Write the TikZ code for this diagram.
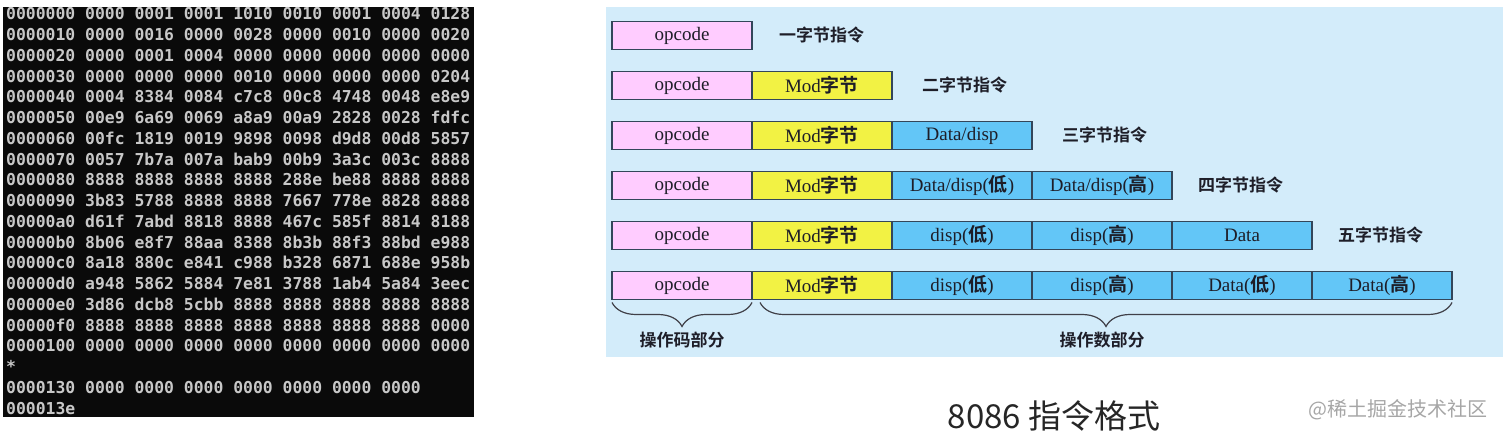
\documentclass[tikz,border=0pt]{standalone}
\usepackage{fontspec}
\setmainfont{Liberation Serif}
\newfontfamily\cjk[BoldFont={Noto Sans CJK SC Bold}]{Noto Sans CJK SC}
\newfontfamily\hexfont{DejaVu Sans Mono Bold}
\usetikzlibrary{decorations.pathreplacing}
\definecolor{panelblue}{HTML}{D3ECFA}
\definecolor{pinkc}{HTML}{FFCCFF}
\definecolor{yellowc}{HTML}{F2F244}
\definecolor{bluec}{HTML}{63C6F7}
\definecolor{bordercol}{HTML}{33465A}
\definecolor{hexgray}{HTML}{C8C8C8}
\definecolor{darktext}{HTML}{1E1E28}
\newcommand\zh[1]{{\cjk\bfseries #1}}
\tikzset{
  hexline/.style={anchor=base west, inner sep=0pt, text=hexgray,
    font=\hexfont\fontsize{16.4}{18}\selectfont},
  cell/.style={draw=bordercol, line width=1.1pt, minimum width=140pt,
    minimum height=28pt, inner sep=0pt, outer sep=0pt, anchor=west,
    text=darktext, font=\fontsize{19}{21}\selectfont},
  oc/.style={cell, fill=pinkc},
  md/.style={cell, fill=yellowc},
  dt/.style={cell, fill=bluec},
  lab/.style={anchor=west, inner sep=0pt, text=darktext,
    font=\cjk\bfseries\fontsize{17}{20}\selectfont},
  blab/.style={inner sep=0pt, text=darktext,
    font=\cjk\bfseries\fontsize{17}{20}\selectfont},
  bracestyle/.style={draw=darktext!85, line width=1.2pt,
    decorate, decoration={brace, mirror, amplitude=24pt}}
}
\begin{document}
\begin{tikzpicture}[x=1pt,y=-1pt]
\useasboundingbox (0,0) rectangle (1509,435);
% left dump panel
\fill[black!96] (3,7) rectangle (474,417);
\foreach \t [count=\i from 0] in {
0000000 0000 0001 0001 1010 0010 0001 0004 0128,
0000010 0000 0016 0000 0028 0000 0010 0000 0020,
0000020 0000 0001 0004 0000 0000 0000 0000 0000,
0000030 0000 0000 0000 0010 0000 0000 0000 0204,
0000040 0004 8384 0084 c7c8 00c8 4748 0048 e8e9,
0000050 00e9 6a69 0069 a8a9 00a9 2828 0028 fdfc,
0000060 00fc 1819 0019 9898 0098 d9d8 00d8 5857,
0000070 0057 7b7a 007a bab9 00b9 3a3c 003c 8888,
0000080 8888 8888 8888 8888 288e be88 8888 8888,
0000090 3b83 5788 8888 8888 7667 778e 8828 8888,
00000a0 d61f 7abd 8818 8888 467c 585f 8814 8188,
00000b0 8b06 e8f7 88aa 8388 8b3b 88f3 88bd e988,
00000c0 8a18 880c e841 c988 b328 6871 688e 958b,
00000d0 a948 5862 5884 7e81 3788 1ab4 5a84 3eec,
00000e0 3d86 dcb8 5cbb 8888 8888 8888 8888 8888,
00000f0 8888 8888 8888 8888 8888 8888 8888 0000,
0000100 0000 0000 0000 0000 0000 0000 0000 0000,
*,
0000130 0000 0000 0000 0000 0000 0000 0000,
000013e}
  \node[hexline] (hex\i) at (6, 20+20.75*\i) {\t};
% right panel
\fill[panelblue] (606,7) rectangle (1503,357);
% row 1
\node[oc] (a1) at (612,35.5) {opcode};
\node[lab] (l1) at ([xshift=27pt]a1.east) {一字节指令};
% row 2
\node[oc] (a2) at (612,85.5) {opcode};
\node[md] (b2) at (a2.east) {Mod\zh{字节}};
\node[lab] (l2) at ([xshift=30pt]b2.east) {二字节指令};
% row 3
\node[oc] (a3) at (612,135.5) {opcode};
\node[md] (b3) at (a3.east) {Mod\zh{字节}};
\node[dt] (c3) at (b3.east) {Data/disp};
\node[lab] (l3) at ([xshift=30pt]c3.east) {三字节指令};
% row 4
\node[oc] (a4) at (612,185.5) {opcode};
\node[md] (b4) at (a4.east) {Mod\zh{字节}};
\node[dt] (c4) at (b4.east) {Data/disp(\zh{低})};
\node[dt] (d4) at (c4.east) {Data/disp(\zh{高})};
\node[lab] (l4) at ([xshift=26pt]d4.east) {四字节指令};
% row 5
\node[oc] (a5) at (612,235.5) {opcode};
\node[md] (b5) at (a5.east) {Mod\zh{字节}};
\node[dt] (c5) at (b5.east) {disp(\zh{低})};
\node[dt] (d5) at (c5.east) {disp(\zh{高})};
\node[dt] (e5) at (d5.east) {Data};
\node[lab] (l5) at ([xshift=26pt]e5.east) {五字节指令};
% row 6
\node[oc] (a6) at (612,285.5) {opcode};
\node[md] (b6) at (a6.east) {Mod\zh{字节}};
\node[dt] (c6) at (b6.east) {disp(\zh{低})};
\node[dt] (d6) at (c6.east) {disp(\zh{高})};
\node[dt] (e6) at (d6.east) {Data(\zh{低})};
\node[dt] (f6) at (e6.east) {Data(\zh{高})};
% braces
\draw[bracestyle] ([yshift=-3pt]a6.south west) -- ([yshift=-3pt]a6.south east);
\draw[bracestyle] ([xshift=8pt,yshift=-3pt]b6.south west) -- ([yshift=-3pt]f6.south east);
\node[blab] (opl) at (682,340) {操作码部分};
\node[blab] (odl) at (1102,340) {操作数部分};
% caption
\node[inner sep=0pt, text=black!85, font=\cjk\fontsize{33}{36}\selectfont] (cap) at (1054,416) {8086 指令格式};
\node[inner sep=0pt, text=black!35, font=\cjk\fontsize{20}{22}\selectfont] (wm) at (1398,410) {@稀土掘金技术社区};
\end{tikzpicture}
\end{document}
